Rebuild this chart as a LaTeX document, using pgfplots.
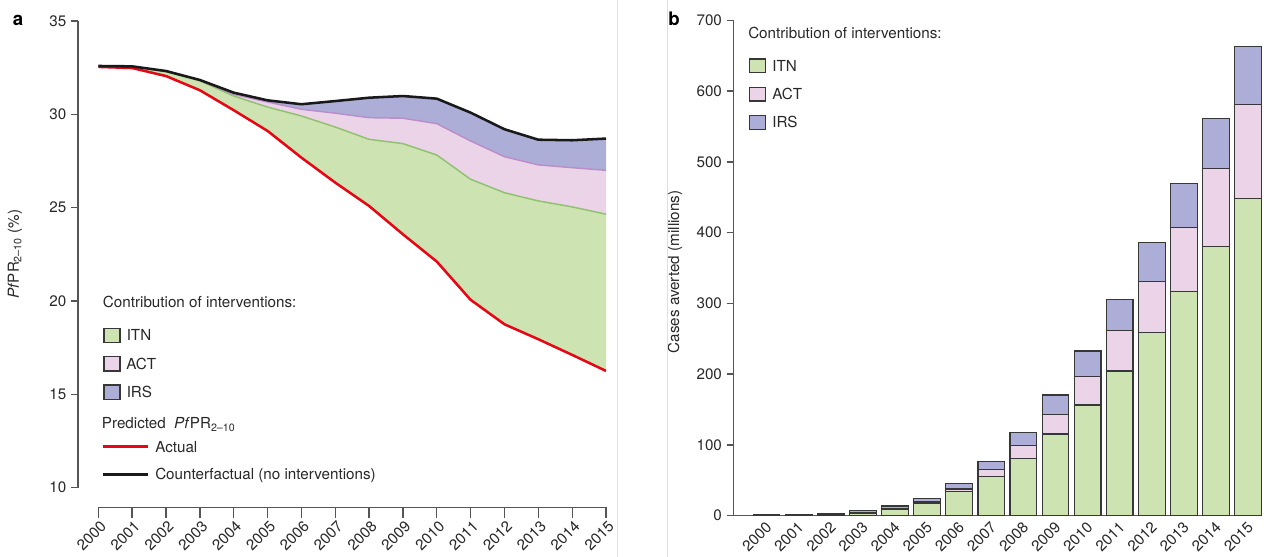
\documentclass[border=0pt]{standalone}
\usepackage{pgfplots}
\pgfplotsset{compat=1.18}
\usepackage{pgfplotstable}
\usepackage{fontspec}
\setmainfont{TeX Gyre Heros}
\definecolor{itn}{RGB}{205,227,178}
\definecolor{act}{RGB}{236,212,232}
\definecolor{irs}{RGB}{172,174,216}
\definecolor{itnline}{RGB}{145,192,112}
\definecolor{actline}{RGB}{186,142,200}
\definecolor{redl}{RGB}{228,8,22}
\definecolor{axgrey}{RGB}{85,85,85}
\definecolor{bargrey}{RGB}{55,55,55}
\definecolor{txt}{RGB}{40,40,40}
\definecolor{sepc}{RGB}{224,224,224}

\pgfplotstableread{
year red itn act cf
2000 32.54 32.59 32.59 32.59
2001 32.48 32.56 32.57 32.57
2002 32.05 32.28 32.32 32.32
2003 31.29 31.80 31.84 31.84
2004 30.22 30.98 31.07 31.16
2005 29.11 30.39 30.66 30.75
2006 27.68 29.91 30.27 30.54
2007 26.34 29.32 30.06 30.71
2008 25.09 28.66 29.82 30.89
2009 23.57 28.43 29.79 30.98
2010 22.11 27.82 29.50 30.84
2011 20.06 26.52 28.57 30.09
2012 18.75 25.80 27.73 29.20
2013 17.95 25.36 27.29 28.64
2014 17.11 25.04 27.14 28.61
2015 16.25 24.65 27.00 28.70
}\prevtab

\pgfplotstableread{
x itn act irs
0 0.5 0.2 0.5
1 0.8 0.3 0.7
2 1.5 0.5 1.5
3 3 1 3
4 9 1.5 3.2
5 17.5 2 5
6 34 3.7 8
7 55 10.5 11
8 81 18.4 18.4
9 115.4 27.3 27.8
10 156.4 40 36.3
11 204.5 57 44.3
12 258.6 72 55
13 316.5 91 62.4
14 380 111 70.5
15 448.5 133 81
}\bartab

\newcommand{\fs}{\fontsize{11.4pt}{13pt}\selectfont}

\pgfplotsset{
  common/.style={scale only axis, tick align=outside,
    tick style={axgrey, line width=1pt},
    axis line style={axgrey, line width=1pt, -},
    ticklabel style={font=\fs, text=txt},
    label style={font=\fs, text=txt},
    /pgf/number format/assume math mode=true,
    /pgf/number format/1000 sep={}},
}

\begin{document}
\begin{tikzpicture}
\useasboundingbox (0,0) rectangle (948pt,417.75pt);

% left panel: data and y axis
\begin{axis}[common, at={(58.5pt,52.05pt)}, anchor=south west,
  width=396pt, height=349.95pt,
  xmin=1999.4, xmax=2015, ymin=10, ymax=35,
  axis y line*=left, axis x line*=bottom,
  x axis line style={draw=none}, xtick=\empty,
  ytick={10,15,...,35}, major tick length=5.25pt,
  ylabel={\textit{Pf}PR\textsubscript{2–10} (\%)},
  ylabel style={at={(axis description cs:-0.1193,0.5)}, anchor=center}]
\addplot[fill=itn, draw=none] coordinates {(2000,32.54) (2001,32.48) (2002,32.05) (2003,31.29) (2004,30.22) (2005,29.11) (2006,27.68) (2007,26.34) (2008,25.09) (2009,23.57) (2010,22.11) (2011,20.06) (2012,18.75) (2013,17.95) (2014,17.11) (2015,16.25) (2015,24.65) (2014,25.04) (2013,25.36) (2012,25.80) (2011,26.52) (2010,27.82) (2009,28.43) (2008,28.66) (2007,29.32) (2006,29.91) (2005,30.39) (2004,30.98) (2003,31.80) (2002,32.28) (2001,32.56) (2000,32.59)} -- cycle;
\addplot[fill=act, draw=none] coordinates {(2000,32.59) (2001,32.56) (2002,32.28) (2003,31.80) (2004,30.98) (2005,30.39) (2006,29.91) (2007,29.32) (2008,28.66) (2009,28.43) (2010,27.82) (2011,26.52) (2012,25.80) (2013,25.36) (2014,25.04) (2015,24.65) (2015,27.00) (2014,27.14) (2013,27.29) (2012,27.73) (2011,28.57) (2010,29.50) (2009,29.79) (2008,29.82) (2007,30.06) (2006,30.27) (2005,30.66) (2004,31.07) (2003,31.84) (2002,32.32) (2001,32.57) (2000,32.59)} -- cycle;
\addplot[fill=irs, draw=none] coordinates {(2000,32.59) (2001,32.57) (2002,32.32) (2003,31.84) (2004,31.07) (2005,30.66) (2006,30.27) (2007,30.06) (2008,29.82) (2009,29.79) (2010,29.50) (2011,28.57) (2012,27.73) (2013,27.29) (2014,27.14) (2015,27.00) (2015,28.70) (2014,28.61) (2013,28.64) (2012,29.20) (2011,30.09) (2010,30.84) (2009,30.98) (2008,30.89) (2007,30.71) (2006,30.54) (2005,30.75) (2004,31.16) (2003,31.84) (2002,32.32) (2001,32.57) (2000,32.59)} -- cycle;
\addplot[itnline, line width=1.1pt] table[x=year,y=itn]{\prevtab};
\addplot[actline, line width=1.1pt] table[x=year,y=act]{\prevtab};
\addplot[redl, line width=1.9pt] table[x=year,y=red]{\prevtab};
\addplot[black!90, line width=1.9pt] table[x=year,y=cf]{\prevtab};
\end{axis}

% left panel: x axis
\begin{axis}[common, at={(73.725pt,37.275pt)}, anchor=south west,
  width=380.8pt, height=20pt,
  xmin=2000, xmax=2015, ymin=0, ymax=1,
  axis x line*=bottom, axis y line*=left,
  y axis line style={draw=none}, ytick=\empty,
  xtick={2000,2001,...,2015}, major tick length=8.25pt,
  xticklabel style={yshift=4pt, xshift=0.8pt, rotate=45, anchor=north east}]
\addplot[draw=none] coordinates {(2000,0.5) (2015,0.5)};
\end{axis}

% right panel
\begin{axis}[common, at={(549.975pt,30.975pt)}, anchor=south west,
  width=396.5pt, height=371.55pt,
  xmin=-1.034, xmax=15.43, ymin=0, ymax=700,
  axis x line*=bottom, axis y line*=left,
  ybar stacked, bar width=20pt,
  xtick={0,1,...,15},
  xticklabels={2000,2001,2002,2003,2004,2005,2006,2007,2008,2009,2010,2011,2012,2013,2014,2015},
  x tick style={draw=none},
  ytick={0,100,...,700}, major tick length=5pt,
  xticklabel style={yshift=6pt, xshift=-1.2pt, rotate=45, anchor=north east},
  ylabel={Cases averted (millions)},
  ylabel style={at={(axis description cs:-0.1103,0.492)}, anchor=center}]
\addplot[fill=itn, draw=bargrey, line width=0.9pt] table[x=x,y=itn]{\bartab};
\addplot[fill=act, draw=bargrey, line width=0.9pt] table[x=x,y=act]{\bartab};
\addplot[fill=irs, draw=bargrey, line width=0.9pt] table[x=x,y=irs]{\bartab};
\end{axis}

\begin{scope}[x=0.75pt, y=-0.75pt, shift={(0pt,417.75pt)}]
\draw[sepc, line width=0.75pt] (617,0) -- (617,557);
\draw[sepc, line width=0.75pt] (667,0) -- (667,557);
\node[anchor=base west, inner sep=0, font=\fontsize{14pt}{16pt}\selectfont\bfseries] at (12.5,25.5) {a};
\node[anchor=base west, inner sep=0, font=\fontsize{14pt}{16pt}\selectfont\bfseries] at (668,25.3) {b};
\begin{scope}[every node/.style={anchor=base west, inner sep=0, font=\fs, text=txt}]
% left legend
\node at (102.7,307.1) {Contribution of interventions:};
\draw[bargrey, line width=0.9pt, fill=itn] (104,328.3) rectangle (120,342.3);
\draw[bargrey, line width=0.9pt, fill=act] (104,356.7) rectangle (120,371);
\draw[bargrey, line width=0.9pt, fill=irs] (104,385) rectangle (120,399.3);
\node at (126.5,340.7) {ITN};
\node at (126,369.2) {ACT};
\node at (126.5,397.6) {IRS};
\node at (101.7,428.7) {Predicted\ \ \textit{Pf}PR\textsubscript{2–10}};
\draw[redl, line width=1.9pt] (103.3,446.7) -- (148.3,446.7);
\draw[black!90, line width=1.9pt] (103.3,474.3) -- (148.3,474.3);
\node at (155,452.1) {Actual};
\node at (155,479.7) {Counterfactual (no interventions)};
% right legend
\node at (748,38.7) {Contribution of interventions:};
\draw[bargrey, line width=0.9pt, fill=itn] (749.2,59) rectangle (765.2,72.7);
\draw[bargrey, line width=0.9pt, fill=act] (749.2,87.3) rectangle (765.2,101);
\draw[bargrey, line width=0.9pt, fill=irs] (749.2,115.7) rectangle (765.2,129.3);
\node at (772,71.2) {ITN};
\node at (772,99.5) {ACT};
\node at (772,127.9) {IRS};
\end{scope}
\end{scope}
\end{tikzpicture}
\end{document}
